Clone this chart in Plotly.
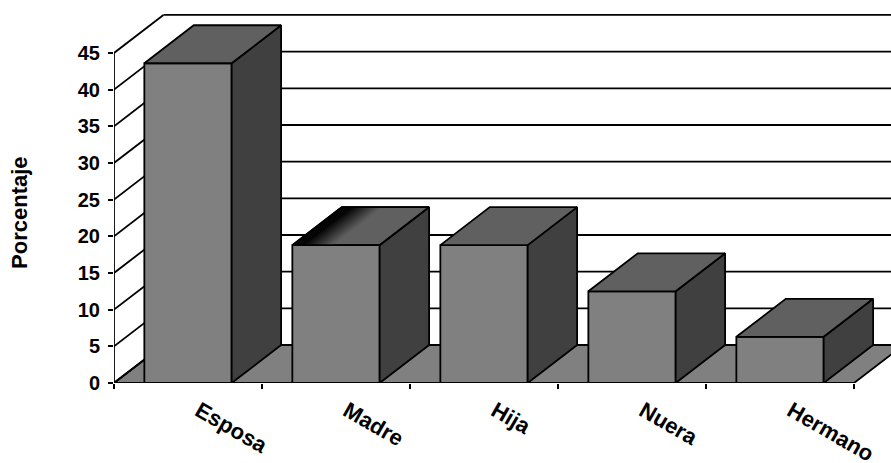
import plotly.graph_objects as go

# Kin relationship of the caregiver, share of respondents
categories = ["Esposa", "Madre", "Hija", "Nuera", "Hermano"]
values = [43.6, 18.8, 18.8, 12.5, 6.3]
y_ticks = [0, 5, 10, 15, 20, 25, 30, 35, 40, 45]

# Oblique projection of the depth axis, in data units
DEPTH_X = 0.334
DEPTH_Y = 5.18
BAR_W = 0.59
LABEL_SHIFT = 0.075

INK = "#000000"
FRONT = "#808080"
TOP = "#606060"
SIDE = "#404040"
FLOOR = "#808080"
FONT = "Liberation Sans"
LW = 1.8

n = len(categories)
centers = [i + 0.5 for i in range(n)]
fig = go.Figure()


def polygon(xs, ys, fill, line_w=LW, axes=("x2", "y2")):
    fig.add_trace(go.Scatter(
        x=xs + xs[:1], y=ys + ys[:1], mode="lines", fill="toself", fillcolor=fill,
        line=dict(color=INK if line_w else fill, width=line_w or 0.5, simplify=False),
        hoverinfo="skip", showlegend=False, xaxis=axes[0], yaxis=axes[1],
    ))


def lines(segments, width=LW, axes=("x", "y")):
    xs, ys = [], []
    for (x0, y0), (x1, y1) in segments:
        xs += [x0, x1, None]
        ys += [y0, y1, None]
    fig.add_trace(go.Scatter(
        x=xs, y=ys, mode="lines", line=dict(color=INK, width=width, simplify=False),
        hoverinfo="skip", showlegend=False, xaxis=axes[0], yaxis=axes[1],
    ))


# Floor of the box
polygon([0, n, n + DEPTH_X, DEPTH_X], [0, 0, DEPTH_Y, DEPTH_Y], FLOOR, axes=("x", "y"))

# Back wall gridlines and the matching rungs on the left wall
lines([((DEPTH_X, v + DEPTH_Y), (n + DEPTH_X, v + DEPTH_Y)) for v in y_ticks])
lines([((0, v), (DEPTH_X, v + DEPTH_Y)) for v in y_ticks])

# Front faces
fig.add_trace(go.Bar(
    x=centers, y=values, width=BAR_W, marker=dict(color=FRONT, line=dict(color=INK, width=LW)),
    hoverinfo="skip", showlegend=False, xaxis="x2", yaxis="y2",
))


def lerp_grey(t):
    level = round(0x60 * max(0.0, min(1.0, t)))
    return f"rgb({level},{level},{level})"


for i, (c, v) in enumerate(zip(centers, values)):
    left, right = c - BAR_W / 2, c + BAR_W / 2
    # Side face
    polygon([right, right + DEPTH_X, right + DEPTH_X, right],
            [0, DEPTH_Y, v + DEPTH_Y, v], SIDE)
    # Top face
    top_x = [left, right, right + DEPTH_X, left + DEPTH_X]
    top_y = [v, v, v + DEPTH_Y, v + DEPTH_Y]
    polygon(top_x, top_y, TOP)
    if categories[i] == "Madre":
        # Shaded top: dark along the left edge, fading out towards the middle
        strips = 24
        for k in range(strips):
            a = left + BAR_W * 0.46 * k / strips
            b = left + BAR_W * 0.46 * (k + 1) / strips
            t = (k / strips - 0.25) / 0.75
            polygon([a, b, b + DEPTH_X, a + DEPTH_X], top_y, lerp_grey(t), line_w=0)
        edges = list(zip(zip(top_x, top_y), zip(top_x[1:] + top_x[:1], top_y[1:] + top_y[:1])))
        lines(edges, axes=("x2", "y2"))

# Axis spines end at the last tick and category, while the plot area runs on past them
lines([((0, 0), (0, y_ticks[-1])), ((0, 0), (n, 0))], axes=("x2", "y2"))

PX_PER_CAT = 148.1
PX_PER_UNIT = 7.34
x_top = (891 - 113.5) / PX_PER_CAT
y_top = 383.3 / PX_PER_UNIT

fig.update_layout(
    width=891, height=463, autosize=False,
    margin=dict(l=113.5, r=0, t=0, b=79.7, pad=0),
    paper_bgcolor="white", plot_bgcolor="white", showlegend=False,
    xaxis=dict(
        range=[0, x_top], tickmode="array", tickvals=[c + LABEL_SHIFT for c in centers],
        ticktext=categories, ticks="", tickangle=30,
        tickfont=dict(family=FONT, size=22, color=INK, weight="bold"),
        ticklabelstandoff=10, automargin=False,
        showgrid=False, zeroline=False, showline=False,
        minor=dict(tickmode="array", tickvals=list(range(n + 1)), ticks="outside",
                   ticklen=5, tickwidth=LW, tickcolor=INK, showgrid=False),
    ),
    yaxis=dict(
        range=[0, y_top], tickmode="array", tickvals=y_ticks, automargin=False,
        ticks="outside", ticklen=5, tickwidth=LW, tickcolor=INK,
        tickfont=dict(family=FONT, size=20, color=INK, weight="bold"),
        ticklabelstandoff=4,
        showgrid=False, zeroline=False, showline=False,
    ),
    xaxis2=dict(range=[0, x_top], overlaying="x", visible=False),
    yaxis2=dict(range=[0, y_top], overlaying="y", visible=False),
    annotations=[dict(
        text="<b>Porcentaje</b>", textangle=-90, showarrow=False,
        xref="paper", yref="y", x=-94.5 / (891 - 113.5), y=23.27,
        xanchor="center", yanchor="middle",
        font=dict(family=FONT, size=22, color=INK),
    )],
)

fig.write_html("out.html", config=dict(displayModeBar=False))
